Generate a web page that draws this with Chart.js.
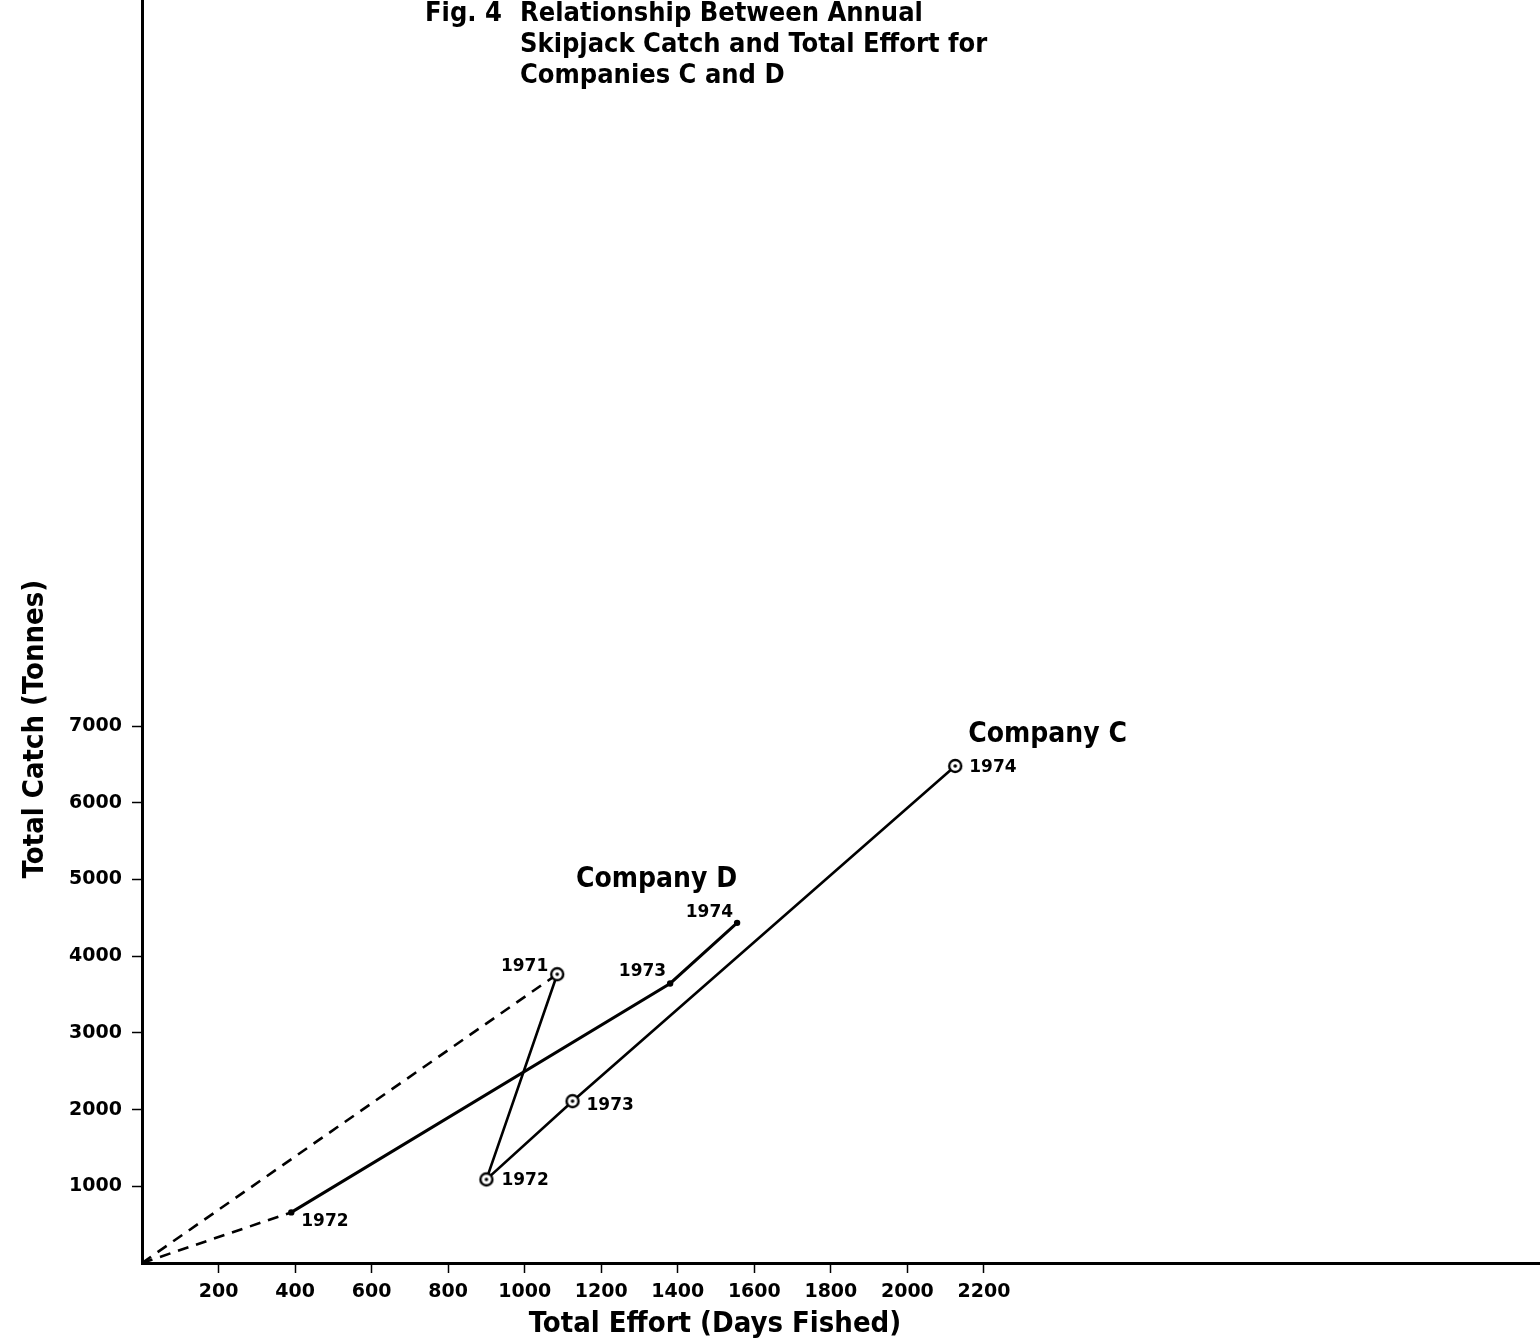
<!DOCTYPE html>
<html>
<head>
<meta charset="utf-8">
<title>Fig. 4 Skipjack Catch and Total Effort</title>
<script src="https://cdn.jsdelivr.net/npm/chart.js@4.4.1/dist/chart.umd.min.js"></script>
<style>
  html, body { margin: 0; padding: 0; background: #fff; }
  #chart { display: block; }
</style>
</head>
<body>
<canvas id="chart" width="1540" height="1343"></canvas>
<script>
// values
const companyCYears = ['1971', '1972', '1973', '1974'];
const companyCEffort = [1085, 900, 1125, 2125];
const companyCCatch = [3765, 1090, 2110, 6480];

const companyDYears = ['1972', '1973', '1974'];
const companyDEffort = [390, 1380, 1555];
const companyDCatch = [660, 3645, 4435];

// dashed lines start at the origin
const originEffort = 0;
const originCatch = 0;

const xTickValues = [200, 400, 600, 800, 1000, 1200, 1400, 1600, 1800, 2000, 2200];
const yTickValues = [1000, 2000, 3000, 4000, 5000, 6000, 7000];

const titleLines = ['Relationship Between Annual', 'Skipjack Catch and Total Effort for', 'Companies C and D'];
const figLabel = 'Fig. 4';
const xTitle = 'Total Effort (Days Fished)';
const yTitle = 'Total Catch (Tonnes)';

// label offsets (pixels) next to each point: [dx, dy, align]
const cLabelPos = [[-9, -3, 'right'], [15, 6, 'left'], [14, 9, 'left'], [14, 6, 'left']];
const dLabelPos = [[10, 14, 'left'], [-4, -7, 'right'], [-4, -6, 'right']];

const FONT = 'DejaVu Sans';
const TEXT_FONT = '"DejaVu Sans Condensed", "DejaVu Sans"';

function toPoints(xs, ys) {
  return xs.map((x, i) => ({ x: x, y: ys[i] }));
}

// open circle with a dot in the middle
function ringDot() {
  const c = document.createElement('canvas');
  c.width = 18;
  c.height = 18;
  const g = c.getContext('2d');
  g.beginPath();
  g.arc(9, 9, 6, 0, Math.PI * 2);
  g.fillStyle = '#fff';
  g.fill();
  g.lineWidth = 2.4;
  g.strokeStyle = '#000';
  g.stroke();
  g.beginPath();
  g.arc(9, 9, 1.8, 0, Math.PI * 2);
  g.fillStyle = '#000';
  g.fill();
  return c;
}

// the axes run to the canvas edges, so drop the label padding chart.js adds
function noEdgePadding(scale) {
  scale.paddingTop = 0;
  scale.paddingBottom = 0;
  scale.paddingLeft = 0;
  scale.paddingRight = 0;
}

const textPlugin = {
  id: 'figureText',
  afterDraw(chart) {
    const ctx = chart.ctx;
    const xs = chart.scales.x;
    const ys = chart.scales.y;
    ctx.save();
    ctx.fillStyle = '#000';
    ctx.textBaseline = 'alphabetic';

    // title
    ctx.font = 'bold 27px ' + TEXT_FONT;
    ctx.textAlign = 'left';
    ctx.fillText(figLabel, 425, 21);
    titleLines.forEach((line, i) => ctx.fillText(line, 520, 21 + i * 31));

    // axis titles
    ctx.font = 'bold 29px ' + TEXT_FONT;
    ctx.textAlign = 'center';
    ctx.fillText(xTitle, 715, 1332);
    ctx.save();
    ctx.translate(43, 729);
    ctx.rotate(-Math.PI / 2);
    ctx.fillText(yTitle, 0, 0);
    ctx.restore();

    // year labels
    ctx.font = 'bold 17px "' + FONT + '"';
    companyCYears.forEach((yr, i) => {
      const p = cLabelPos[i];
      ctx.textAlign = p[2];
      ctx.fillText(yr, xs.getPixelForValue(companyCEffort[i]) + p[0], ys.getPixelForValue(companyCCatch[i]) + p[1]);
    });
    companyDYears.forEach((yr, i) => {
      const p = dLabelPos[i];
      ctx.textAlign = p[2];
      ctx.fillText(yr, xs.getPixelForValue(companyDEffort[i]) + p[0], ys.getPixelForValue(companyDCatch[i]) + p[1]);
    });

    // company names near the last year
    ctx.font = 'bold 28px ' + TEXT_FONT;
    const cLast = companyCEffort.length - 1;
    ctx.textAlign = 'left';
    ctx.fillText('Company C', xs.getPixelForValue(companyCEffort[cLast]) + 13, ys.getPixelForValue(companyCCatch[cLast]) - 24);
    const dLast = companyDEffort.length - 1;
    ctx.textAlign = 'right';
    ctx.fillText('Company D', xs.getPixelForValue(companyDEffort[dLast]), ys.getPixelForValue(companyDCatch[dLast]) - 36);

    ctx.restore();
  }
};

const tickFont = { family: FONT, size: 19, weight: 'bold' };

new Chart(document.getElementById('chart'), {
  type: 'scatter',
  data: {
    datasets: [
      {
        label: 'Company C',
        data: toPoints(companyCEffort, companyCCatch),
        showLine: true,
        borderColor: '#000',
        borderWidth: 2.6,
        pointStyle: ringDot(),
        pointRadius: 7
      },
      {
        label: 'Company D',
        data: toPoints(companyDEffort, companyDCatch),
        showLine: true,
        borderColor: '#000',
        borderWidth: 3,
        pointBackgroundColor: '#000',
        pointBorderWidth: 0,
        pointRadius: 3.2
      },
      {
        label: 'Company C start',
        data: [{ x: originEffort, y: originCatch }, { x: companyCEffort[0], y: companyCCatch[0] }],
        showLine: true,
        borderColor: '#000',
        borderWidth: 2.6,
        borderDash: [11, 8],
        pointRadius: 0
      },
      {
        label: 'Company D start',
        data: [{ x: originEffort, y: originCatch }, { x: companyDEffort[0], y: companyDCatch[0] }],
        showLine: true,
        borderColor: '#000',
        borderWidth: 2.6,
        borderDash: [11, 8],
        pointRadius: 0
      }
    ]
  },
  options: {
    responsive: false,
    animation: false,
    devicePixelRatio: 1,
    layout: { padding: 0, autoPadding: false },
    plugins: {
      legend: { display: false },
      tooltip: { enabled: false },
      title: { display: false }
    },
    scales: {
      x: {
        type: 'linear',
        min: 0,
        max: 3653,
        afterBuildTicks: axis => { axis.ticks = xTickValues.map(v => ({ value: v })); },
        afterFit: scale => { scale.height = 80; noEdgePadding(scale); },
        grid: { drawOnChartArea: false, drawTicks: true, tickLength: 10, tickWidth: 1.5, color: '#000' },
        border: { display: true, color: '#000', width: 3 },
        ticks: { color: '#000', font: tickFont, padding: 8, maxRotation: 0, autoSkip: false, callback: v => String(v) }
      },
      y: {
        type: 'linear',
        min: 0,
        max: 16467,
        afterBuildTicks: axis => { axis.ticks = yTickValues.map(v => ({ value: v })); },
        afterFit: scale => { scale.width = 142; noEdgePadding(scale); },
        grid: { drawOnChartArea: false, drawTicks: true, tickLength: 10, tickWidth: 1.5, color: '#000' },
        border: { display: true, color: '#000', width: 3 },
        ticks: { color: '#000', font: tickFont, padding: 10, autoSkip: false, callback: v => String(v) }
      }
    }
  },
  plugins: [textPlugin]
});
</script>
</body>
</html>
